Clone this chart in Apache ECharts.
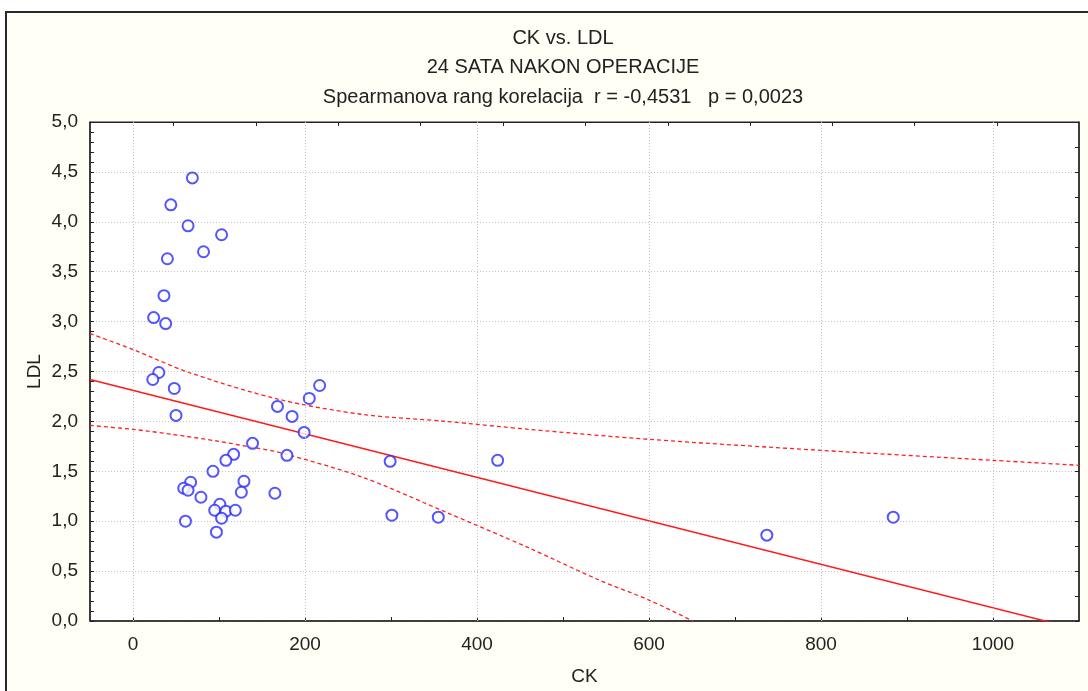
<!DOCTYPE html>
<html>
<head>
<meta charset="utf-8">
<script src="https://cdn.jsdelivr.net/npm/echarts@6/dist/echarts.min.js"></script>
<style>
  html, body { margin: 0; padding: 0; background: #fff; }
  #main { width: 1088px; height: 691px; }
</style>
</head>
<body>
<div id="main"></div>
<script>
// CK vs LDL - tocke ocitane sa slike
var ckValues = [69, 44, 64, 103, 82, 40, 36, 24, 38, 30, 23, 48, 50, 168, 185, 205, 217, 199, 139, 179, 117, 108, 93, 67, 59, 64, 79, 129, 126, 165, 101, 95, 108, 119, 103, 61, 97, 299, 424, 301, 355, 737, 884];
var ldlValues = [4.44, 4.17, 3.96, 3.87, 3.70, 3.63, 3.26, 3.04, 2.98, 2.49, 2.42, 2.33, 2.06, 2.15, 2.05, 2.23, 2.36, 1.89, 1.78, 1.66, 1.67, 1.61, 1.50, 1.39, 1.33, 1.31, 1.24, 1.40, 1.29, 1.28, 1.17, 1.11, 1.10, 1.11, 1.03, 1.00, 0.89, 1.60, 1.61, 1.06, 1.04, 0.86, 1.04];

// regresijski pravac
var fitIntercept = 2.31;
var fitSlope = -0.002178;
var fitRange = [-50, 1100];

// granice pouzdanosti (95%)
var upperX = [-50, 0, 65, 170, 267, 364, 461, 600, 800, 1000, 1100];
var upperY = [2.88, 2.72, 2.49, 2.22, 2.07, 2.00, 1.92, 1.82, 1.71, 1.61, 1.56];
var lowerX = [-50, 0, 46, 100, 139, 170, 267, 364, 461, 542, 600, 651];
var lowerY = [1.96, 1.92, 1.87, 1.80, 1.74, 1.69, 1.44, 1.09, 0.73, 0.41, 0.21, 0.0];

var xLabels = [0, 200, 400, 600, 800, 1000];
var xTicks = [0, 100, 200, 300, 400, 500, 600, 700, 800, 900, 1000];
var topTicks = [47, 143, 239, 334, 430, 526, 622, 718, 813, 909, 1005];
var titleLines = ['CK vs. LDL', '24 SATA NAKON OPERACIJE', 'Spearmanova rang korelacija  r = -0,4531   p = 0,0023'];

function zip(a, b) {
	var out = [];
	for (var i = 0; i < a.length; i++) out.push([a[i], b[i]]);
	return out;
}

var myChart = echarts.init(document.getElementById('main'));
var font = 'Liberation Sans, Arial, sans-serif';
var gridStyle = { color: '#c4c4c4', type: [1, 2], width: 1 };

option = {
	animation: false,
	backgroundColor: '#fff',
	textStyle: { fontFamily: font },
	graphic: [{
		type: 'rect',
		z: -10,
		shape: { x: 6, y: 12, width: 1120, height: 720 },
		style: { fill: '#fffff6', stroke: '#2a2a2a', lineWidth: 2 }
	}],
	title: titleLines.map(function (t, i) {
		return {
			text: t,
			left: 558,
			top: 23 + i * 29.5,
			textAlign: 'center',
			textStyle: { fontSize: 20, fontWeight: 'normal', color: '#222', fontFamily: font }
		};
	}),
	grid: {
		left: 90,
		right: 9,
		top: 122,
		bottom: 69,
		show: true,
		backgroundColor: '#fff',
		borderColor: '#222',
		borderWidth: 1
	},
	xAxis: [{
		type: 'value',
		min: -50,
		max: 1100,
		position: 'bottom',
		name: 'CK',
		nameLocation: 'middle',
		nameGap: 46,
		nameMoveOverlap: false,
		nameTextStyle: { fontSize: 19, color: '#222' },
		axisLine: { show: true, onZero: false, lineStyle: { color: '#222', width: 1.5 } },
		axisTick: { show: true, inside: true, length: 4, customValues: xTicks, lineStyle: { color: '#222' } },
		axisLabel: {
			customValues: xLabels,
			fontSize: 19,
			color: '#222',
			margin: 14,
			formatter: function (v) { return String(v); }
		},
		splitLine: { show: false }
	}, {
		type: 'value',
		min: -50,
		max: 1100,
		position: 'top',
		axisLine: { show: true, onZero: false, lineStyle: { color: '#222' } },
		axisTick: { show: true, inside: true, length: 4, customValues: topTicks, lineStyle: { color: '#222' } },
		axisLabel: { show: false },
		splitLine: { show: false }
	}],
	yAxis: [{
		type: 'value',
		min: 0,
		max: 5,
		interval: 0.5,
		position: 'left',
		name: 'LDL',
		nameLocation: 'middle',
		nameGap: 46,
		nameMoveOverlap: false,
		nameTextStyle: { fontSize: 19, color: '#222' },
		axisLine: { show: true, onZero: false, lineStyle: { color: '#222', width: 1.5 } },
		axisTick: { show: true, inside: true, length: 4, lineStyle: { color: '#222' } },
		minorTick: { show: true, splitNumber: 5, length: 4, lineStyle: { color: '#222' } },
		axisLabel: {
			fontSize: 19,
			color: '#222',
			margin: 12,
			formatter: function (v) { return v.toFixed(1).replace('.', ','); }
		},
		splitLine: { show: true, lineStyle: gridStyle }
	}, {
		type: 'value',
		min: 0,
		max: 5,
		interval: 0.25,
		position: 'right',
		axisLine: { show: true, onZero: false, lineStyle: { color: '#222', width: 1.5 } },
		axisTick: { show: true, inside: true, length: 4, lineStyle: { color: '#222' } },
		axisLabel: { show: false },
		splitLine: { show: false }
	}],
	series: [{
		// vertikalne linije mreze na 0, 200, ... 1000
		name: 'mreza',
		type: 'line',
		data: [],
		silent: true,
		z: 1,
		markLine: {
			silent: true,
			symbol: 'none',
			label: { show: false },
			lineStyle: gridStyle,
			data: xLabels.map(function (v) { return { xAxis: v }; })
		}
	}, {
		name: 'gornja granica',
		type: 'line',
		data: zip(upperX, upperY),
		showSymbol: false,
		smooth: 0.3,
		clip: true,
		lineStyle: { color: '#ff2020', width: 1.3, type: [4, 3] },
		z: 3
	}, {
		name: 'donja granica',
		type: 'line',
		data: zip(lowerX, lowerY),
		showSymbol: false,
		smooth: 0.3,
		clip: true,
		lineStyle: { color: '#ff2020', width: 1.3, type: [4, 3] },
		z: 3
	}, {
		name: 'regresija',
		type: 'line',
		data: fitRange.map(function (x) { return [x, fitIntercept + fitSlope * x]; }),
		showSymbol: false,
		clip: true,
		lineStyle: { color: '#ff1a1a', width: 1.5 },
		z: 3
	}, {
		name: 'CK vs LDL',
		type: 'scatter',
		data: zip(ckValues, ldlValues),
		symbol: 'emptyCircle',
		symbolSize: 11,
		itemStyle: { color: '#2a2aff', borderColor: '#2a2aff', borderWidth: 1.5 },
		z: 4
	}]
};
myChart.setOption(option);
</script>
</body>
</html>
